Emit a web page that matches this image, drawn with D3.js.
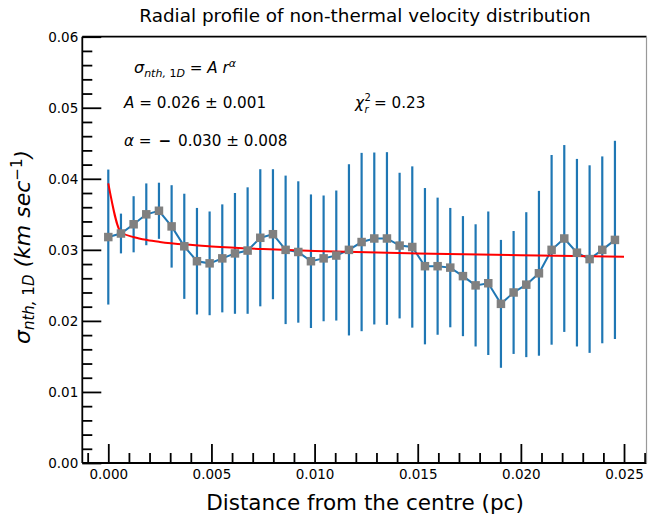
<!DOCTYPE html>
<html>
<head>
<meta charset="utf-8">
<script src="https://cdn.jsdelivr.net/npm/d3@7"></script>
<style>
  html, body { margin: 0; padding: 0; background: #fff; }
  svg { display: block; font-family: "DejaVu Sans", sans-serif; }
</style>
</head>
<body>
<svg id="chart" width="649" height="515"></svg>
<script>
// ---- data ----
const distance = [0, 0.000614, 0.001228, 0.001842, 0.002456, 0.00307, 0.003684, 0.004298, 0.004912, 0.005526,
  0.00614, 0.006754, 0.007368, 0.007982, 0.008596, 0.00921, 0.009824, 0.010438, 0.011052, 0.011666,
  0.01228, 0.012894, 0.013508, 0.014122, 0.014736, 0.01535, 0.015964, 0.016578, 0.017192, 0.017806,
  0.01842, 0.019034, 0.019648, 0.020262, 0.020876, 0.02149, 0.022104, 0.022718, 0.023332, 0.023946, 0.02456];
const sigma = [0.0318, 0.0323, 0.0336, 0.0350, 0.0355, 0.0333, 0.0305, 0.0284, 0.0281, 0.0288,
  0.0295, 0.0299, 0.0317, 0.0322, 0.0300, 0.0297, 0.0284, 0.0288, 0.0292, 0.0300,
  0.0311, 0.0316, 0.0316, 0.0306, 0.0304, 0.0277, 0.0277, 0.0275, 0.0263, 0.0250,
  0.0253, 0.0224, 0.0240, 0.0251, 0.0267, 0.0300, 0.0316, 0.0296, 0.0287, 0.0300, 0.0314];
const sigmaErr = [0.0095, 0.0028, 0.00395, 0.00435, 0.00395, 0.0058, 0.0074, 0.0075, 0.0073, 0.0076,
  0.0085, 0.0089, 0.00965, 0.00915, 0.01045, 0.00995, 0.0094, 0.00885, 0.00915, 0.01205,
  0.01255, 0.0121, 0.01215, 0.01025, 0.01135, 0.011, 0.00965, 0.0084, 0.00845, 0.0086,
  0.0101, 0.009, 0.00865, 0.0102, 0.0116, 0.01335, 0.01315, 0.0132, 0.0132, 0.01315, 0.01395];
// fitted power-law curve, values as drawn
const fitDistance = [0.000001, 0.000625, 0.00125, 0.001875, 0.0025, 0.00375, 0.005, 0.0075, 0.01, 0.015, 0.02, 0.025];
const fitSigma = [0.03935, 0.03244, 0.03178, 0.03139, 0.03112, 0.03074, 0.03048, 0.03011, 0.02985, 0.02949, 0.02924, 0.02904];

const xMajorTicks = [0, 0.005, 0.010, 0.015, 0.020, 0.025];
const xMajorLabels = ["0.000", "0.005", "0.010", "0.015", "0.020", "0.025"];
const xMinorTicks = [-0.001, 0.001, 0.002, 0.003, 0.004, 0.006, 0.007, 0.008, 0.009, 0.011, 0.012, 0.013, 0.014,
  0.016, 0.017, 0.018, 0.019, 0.021, 0.022, 0.023, 0.024, 0.026];
const yMajorTicks = [0, 0.01, 0.02, 0.03, 0.04, 0.05, 0.06];
const yMajorLabels = ["0.00", "0.01", "0.02", "0.03", "0.04", "0.05", "0.06"];
const yMinorTicks = [0.002, 0.004, 0.006, 0.008, 0.012, 0.014, 0.016, 0.018, 0.022, 0.024, 0.026, 0.028,
  0.032, 0.034, 0.036, 0.038, 0.042, 0.044, 0.046, 0.048, 0.052, 0.054, 0.056, 0.058];

// ---- layout ----
const svg = d3.select("#chart");
const L = 82.3, R = 646.5, T = 36.7, B = 463;
const x = d3.scaleLinear().domain([-0.00126, 0.02609]).range([L, R]);
const y = d3.scaleLinear().domain([0, 0.06]).range([B, T]);
const blue = "#1f77b4";

// title
svg.append("text").attr("x", 365).attr("y", 22).attr("text-anchor", "middle")
  .attr("font-size", 18.4).attr("fill", "#000")
  .text("Radial profile of non-thermal velocity distribution");

// axes with inward ticks
const gx = svg.append("g").attr("transform", `translate(0,${B})`);
gx.call(d3.axisBottom(x).tickValues(xMinorTicks).tickSize(-10).tickFormat(""));
gx.call(g => g.selectAll(".domain").remove());
const gx2 = svg.append("g").attr("transform", `translate(0,${B})`);
gx2.call(d3.axisBottom(x).tickValues(xMajorTicks).tickSize(-19).tickPadding(6)
  .tickFormat((d, i) => xMajorLabels[i]));
gx2.select(".domain").remove();

const gy = svg.append("g").attr("transform", `translate(${L},0)`);
gy.call(d3.axisLeft(y).tickValues(yMinorTicks).tickSize(-10).tickFormat(""));
gy.select(".domain").remove();
const gy2 = svg.append("g").attr("transform", `translate(${L},0)`);
gy2.call(d3.axisLeft(y).tickValues(yMajorTicks).tickSize(-19).tickPadding(4)
  .tickFormat((d, i) => yMajorLabels[i]));
gy2.select(".domain").remove();

svg.selectAll(".tick line").attr("stroke", "#000").attr("stroke-width", 1.8);
svg.selectAll(".tick text").attr("font-size", 13.5).attr("fill", "#000")
  .attr("font-family", "DejaVu Sans");
gx2.selectAll(".tick text").attr("dy", "0.75em");

// error bars
svg.append("g").selectAll("line").data(distance).join("line")
  .attr("x1", (d) => x(d)).attr("x2", (d) => x(d))
  .attr("y1", (d, i) => y(sigma[i] - sigmaErr[i]))
  .attr("y2", (d, i) => y(sigma[i] + sigmaErr[i]))
  .attr("stroke", blue).attr("stroke-width", 2.2);

// connecting line
const pts = distance.map((d, i) => [d, sigma[i]]);
svg.append("path").datum(pts)
  .attr("d", d3.line().x(d => x(d[0])).y(d => y(d[1])))
  .attr("fill", "none").attr("stroke", blue).attr("stroke-width", 2);

// fit curve
const fitPts = fitDistance.map((d, i) => [d, fitSigma[i]]);
svg.append("path").datum(fitPts)
  .attr("d", d3.line().x(d => x(d[0])).y(d => y(d[1])).curve(d3.curveMonotoneX))
  .attr("fill", "none").attr("stroke", "#ff0000").attr("stroke-width", 2);

// markers
const ms = 8.5;
svg.append("g").selectAll("rect").data(pts).join("rect")
  .attr("x", d => x(d[0]) - ms / 2).attr("y", d => y(d[1]) - ms / 2)
  .attr("width", ms).attr("height", ms).attr("fill", "#808080");

// spines
svg.append("line").attr("x1", L).attr("x2", L).attr("y1", T).attr("y2", B).attr("stroke", "#000").attr("stroke-width", 1.8);
svg.append("line").attr("x1", L).attr("x2", R).attr("y1", B).attr("y2", B).attr("stroke", "#000").attr("stroke-width", 1.8);
svg.append("line").attr("x1", L).attr("x2", R).attr("y1", T).attr("y2", T).attr("stroke", "#000").attr("stroke-width", 1.8);
svg.append("line").attr("x1", R).attr("x2", R).attr("y1", T).attr("y2", B).attr("stroke", "#999").attr("stroke-width", 1.2);

// annotations
const ann = svg.append("g").attr("font-size", 15.2).attr("fill", "#000");
const t1 = ann.append("text").attr("x", 134).attr("y", 73);
t1.append("tspan").attr("font-style", "italic").attr("font-size", 16).text("σ");
t1.append("tspan").attr("font-style", "italic").attr("font-size", 11).attr("dy", 3.5).text("nth, ");
t1.append("tspan").attr("font-size", 11).text("1");
t1.append("tspan").attr("font-style", "italic").attr("font-size", 11).text("D");
t1.append("tspan").attr("dy", -3.5).text(" = ");
t1.append("tspan").attr("font-style", "italic").text("A  r");
t1.append("tspan").attr("font-style", "italic").attr("font-size", 11).attr("dy", -6).text("α");

const t2 = ann.append("text").attr("x", 124).attr("y", 108);
t2.append("tspan").attr("font-style", "italic").text("A");
t2.append("tspan").text(" = 0.026 ± 0.001");

const t3 = ann.append("text").attr("x", 124).attr("y", 146);
t3.append("tspan").attr("font-style", "italic").text("α");
t3.append("tspan").text(" = ");
t3.append("tspan").attr("dx", 2).attr("font-weight", "bold").text("−");
t3.append("tspan").attr("dx", 2).text(" 0.030 ± 0.008");

// chi-squared: symbol, superscript and subscript as separate texts
ann.append("text").attr("x", 355).attr("y", 108).attr("font-style", "italic").text("χ");
ann.append("text").attr("x", 364.5).attr("y", 100.5).attr("font-size", 10).text("2");
ann.append("text").attr("x", 364.5).attr("y", 113).attr("font-style", "italic").attr("font-size", 10).text("r");
ann.append("text").attr("x", 374).attr("y", 108).text("= 0.23");

// axis labels
svg.append("text").attr("x", 365).attr("y", 510).attr("text-anchor", "middle")
  .attr("font-size", 21.5).attr("fill", "#000").text("Distance from the centre (pc)");

const yl = svg.append("text").attr("transform", "translate(30,247) rotate(-90)")
  .attr("text-anchor", "middle").attr("font-size", 22).attr("fill", "#000").attr("font-style", "italic");
yl.append("tspan").text("σ");
yl.append("tspan").attr("font-size", 15).attr("dy", 4).text("nth, ");
yl.append("tspan").attr("font-size", 15).attr("font-style", "normal").text("1");
yl.append("tspan").attr("font-size", 15).text("D");
yl.append("tspan").attr("dy", -4).text(" (km sec");
yl.append("tspan").attr("font-size", 15).attr("font-style", "normal").attr("dy", -8).text("−1");
yl.append("tspan").attr("dy", 8).text(")");
</script>
</body>
</html>
